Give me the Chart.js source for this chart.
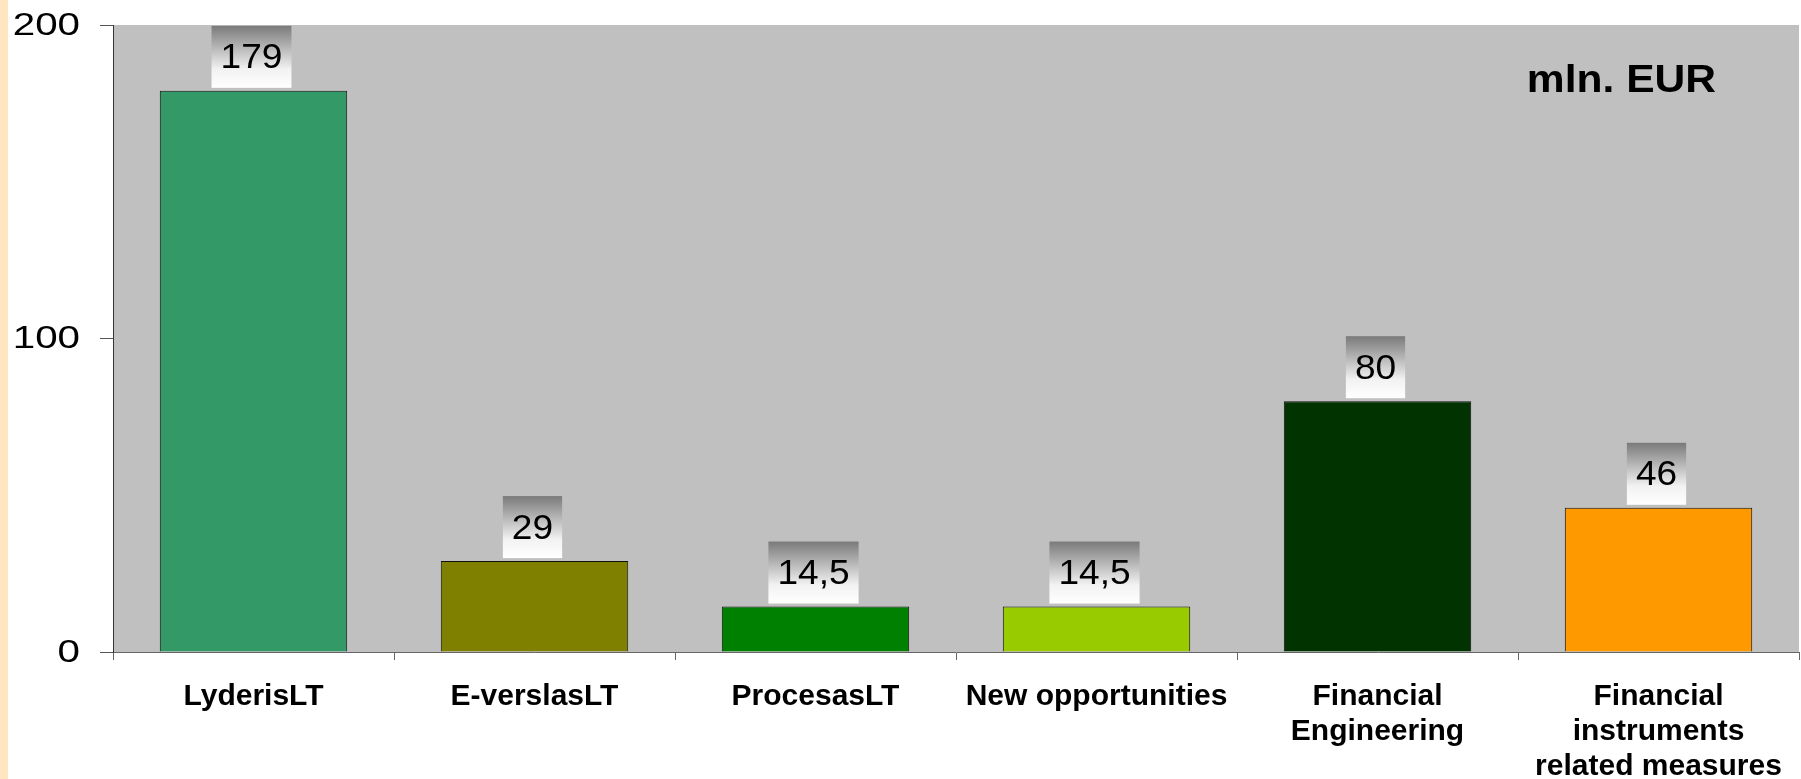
<!DOCTYPE html>
<html>
<head>
<meta charset="utf-8">
<script src="https://cdn.jsdelivr.net/npm/chart.js@4.4.1/dist/chart.umd.min.js"></script>
<style>
    html, body { margin: 0; padding: 0; background: #fff; }
    #wrap { width: 1801px; height: 779px; position: relative; }
</style>
</head>
<body>
<div id="wrap"><canvas id="chart"></canvas></div>
<script>
// --- Datos ---
const categories = [
    'LyderisLT',
    'E-verslasLT',
    'ProcesasLT',
    'New opportunities',
    ['Financial', 'Engineering'],
    ['Financial', 'instruments', 'related measures']
];
const values = [179, 29, 14.5, 14.5, 80, 46];
const valueLabels = ['179', '29', '14,5', '14,5', '80', '46'];
const barColors = ['#339966', '#808000', '#008000', '#99CC00', '#003300', '#FF9900'];
const yTicks = [0, 100, 200];
const unitLabel = 'mln. EUR';

const FONT = '"Liberation Sans", Arial, Helvetica, sans-serif';

// fondo gris del area + franja naranja a la izquierda
const backgroundPlugin = {
    id: 'bg',
    beforeDraw(chart) {
        const { ctx, chartArea: a } = chart;
        ctx.save();
        ctx.fillStyle = '#FFE6C0';
        ctx.fillRect(0, 0, 8, chart.height);
        ctx.fillStyle = '#C0C0C0';
        ctx.fillRect(a.left, a.top, a.right - a.left, a.bottom - a.top);
        ctx.restore();
    }
};

// etiquetas del eje Y (ligeramente estiradas como en el original)
const yLabelPlugin = {
    id: 'yLabels',
    afterDraw(chart) {
        const { ctx } = chart;
        const yScale = chart.scales.y;
        ctx.save();
        ctx.font = '31px ' + FONT;
        ctx.fillStyle = '#000';
        ctx.textAlign = 'right';
        ctx.textBaseline = 'middle';
        yTicks.forEach(v => {
            const py = yScale.getPixelForValue(v);
            ctx.save();
            ctx.translate(80, py);
            ctx.scale(1.3, 1);
            ctx.fillText(String(v), 0, 1);
            ctx.restore();
        });
        ctx.restore();
    }
};

// cajas con degradado encima de cada barra
const valueBoxPlugin = {
    id: 'valueBoxes',
    afterDatasetsDraw(chart) {
        const { ctx } = chart;
        const meta = chart.getDatasetMeta(0);
        ctx.save();
        ctx.font = '35px ' + FONT;
        meta.data.forEach((bar, i) => {
            const txt = valueLabels[i];
            const w = ctx.measureText(txt).width * 1.06 + 18;
            const h = 62;
            const x = bar.x - w / 2 - 2;
            const y = bar.y - 3 - h;
            const g = ctx.createLinearGradient(0, y, 0, y + h);
            g.addColorStop(0, '#7a7a7a');
            g.addColorStop(0.7, '#f2f2f2');
            g.addColorStop(1, '#ffffff');
            ctx.fillStyle = g;
            ctx.fillRect(x, y, w, h);
            ctx.fillStyle = '#000';
            ctx.textAlign = 'center';
            ctx.textBaseline = 'middle';
            ctx.save();
            ctx.translate(x + w / 2, y + h / 2 + 2);
            ctx.scale(1.06, 1);
            ctx.fillText(txt, 0, 0);
            ctx.restore();
        });
        // unidad
        ctx.font = 'bold 38px ' + FONT;
        ctx.textAlign = 'right';
        ctx.textBaseline = 'middle';
        ctx.fillStyle = '#000';
        ctx.translate(1716, 82);
        ctx.scale(1.12, 1);
        ctx.fillText(unitLabel, 0, 0);
        ctx.restore();
    }
};

new Chart(document.getElementById('chart'), {
    type: 'bar',
    data: {
        labels: categories,
        datasets: [{
            data: values,
            backgroundColor: barColors,
            borderColor: '#111',
            borderWidth: 1,
            barPercentage: 0.667,
            categoryPercentage: 1
        }]
    },
    options: {
        responsive: true, maintainAspectRatio: false, animation: false,
        layout: { padding: { top: 25, right: 1, left: 0, bottom: 0 } },
        plugins: { legend: { display: false }, tooltip: { enabled: false } },
        scales: {
            x: {
                grid: { drawOnChartArea: false, drawTicks: true, tickLength: 8, offset: true, color: '#666' },
                border: { display: true, color: '#666' },
                ticks: {
                    color: '#000', padding: 19, maxRotation: 0, autoSkip: false,
                    font: { family: FONT, size: 30, weight: 'bold', lineHeight: 1.17 }
                },
                afterFit(scale) { scale.height = 127; }
            },
            y: {
                min: 0, max: 200,
                afterBuildTicks(scale) { scale.ticks = yTicks.map(v => ({ value: v })); },
                grid: { drawOnChartArea: false, drawTicks: true, tickLength: 13, color: '#555' },
                border: { display: true, color: '#333' },
                ticks: { display: false },
                afterFit(scale) { scale.width = 113; }
            }
        }
    },
    plugins: [backgroundPlugin, valueBoxPlugin, yLabelPlugin]
});
</script>
</body>
</html>
